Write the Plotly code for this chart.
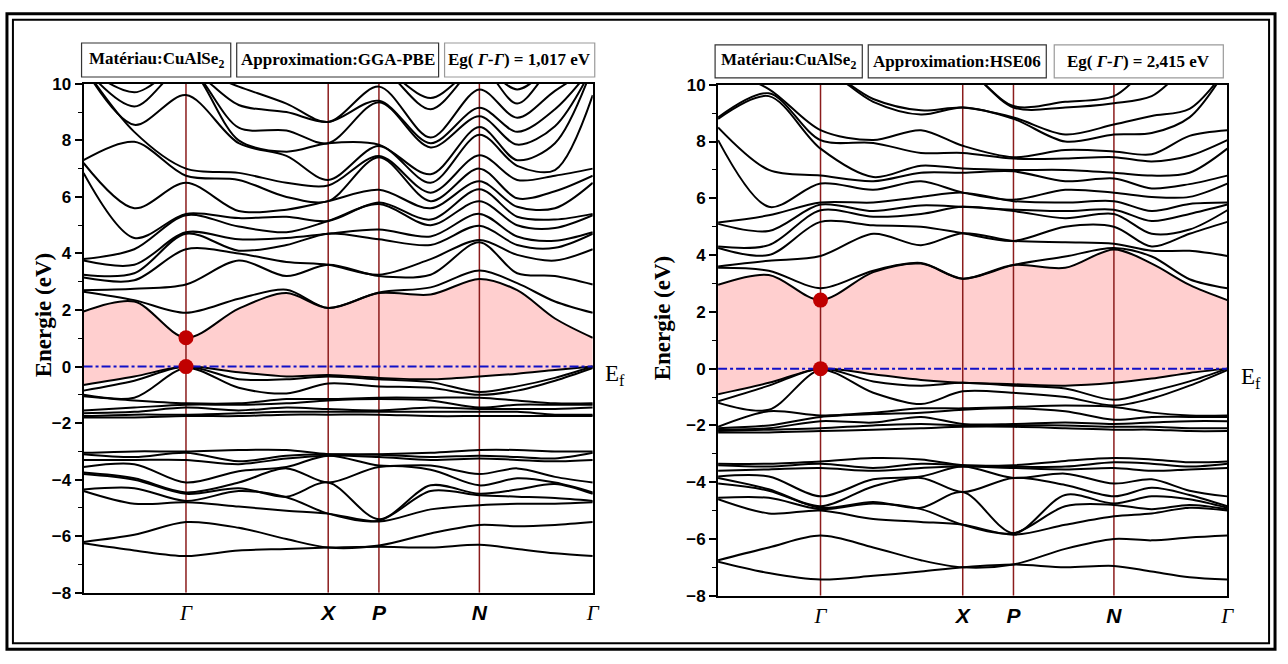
import plotly.graph_objects as go

W, H = 1288, 664

# ---------------- data ----------------
# k-path sample positions (path length units), and high-symmetry points
K = [0, 51, 103, 156, 204, 246, 297, 349, 398, 436, 474, 512]
kpt_pos = [103, 246, 297, 398, 512]
kpt_names = ["Γ", "X", "P", "N", "Γ"]

OFF = 10.6  # energy used for bands that leave the window (above 10 eV)

# GGA-PBE : conduction-band energies (eV) at each K column
gga_cb = [
    [1.95, 2.65, 2.7, 3.15, 3.25, 3.75, 3.8, 6.85, 7.2, 7.3],
    [2.3, 2.35, 2.75, 3.05, 3.3, 3.6, 4.15, 4.55, 5.6, 7.95, 8.3, 8.55, 9.2, 9.7],
    [1.017, 1.9, 2.9, 4.15, 4.7, 4.75, 5.35, 5.4, 6.5, 6.75, 7.0, 9.6],
    [2.05, 2.4, 3.75, 4.0, 4.1, 4.5, 4.95, 5.25, 5.5, 6.6, 6.85, 7.9, 8.0, 8.45, 9.25, 9.9],
    [2.6, 2.72, 3.2, 3.7, 4.3, 4.55, 4.75, 5.3, 5.55, 6.0, 6.5, 7.45, 7.6, 8.35, 9.0, 9.3],
    [2.07, 2.07, 3.6, 3.6, 4.7, 4.7, 5.15, 5.15, 5.85, 5.85, 6.4, 6.6, 7.9, 7.9, 8.65, 8.65],
    [2.6, 2.62, 3.2, 3.25, 4.5, 4.85, 5.75, 5.8, 6.25, 7.4, 7.45, 7.8, 7.85, 9.35, 9.4, 9.9],
    [2.55, 2.8, 3.25, 3.8, 4.3, 4.6, 5.0, 5.2, 5.6, 5.85, 6.15, 6.5, 6.8, 7.75, 7.9, 8.1, 9.1, 9.5],
    [3.1, 3.4, 4.4, 4.48, 4.98, 5.4, 5.85, 6.27, 6.55, 7.0, 7.47, 8.2, 8.47, 8.85, 9.15, 9.8],
    [2.7, 2.95, 3.3, 3.95, 4.3, 4.6, 5.0, 5.3, 5.65, 5.95, 6.6, 7.1, 7.3, 7.85, 8.3, 8.8, 9.3, 9.8],
    [1.7, 2.3, 3.2, 3.75, 4.2, 4.45, 4.9, 5.2, 5.6, 6.2, 6.75, 6.95, 7.9, 8.5, 9.1, 9.75],
    [1.017, 1.9, 2.9, 4.15, 4.7, 4.75, 5.35, 5.4, 6.5, 6.75, 7.0, 9.6],
]
# GGA-PBE : upper valence group
gga_vb_top = [
    [-0.65, -0.85, -1.0, -1.05, -1.55, -1.65, -1.75, -1.8],
    [-0.35, -0.5, -1.1, -1.2, -1.45, -1.6, -1.7, -1.8],
    [0.0, 0.0, -0.05, -1.3, -1.35, -1.45, -1.7, -1.75],
    [-0.2, -0.45, -0.75, -1.3, -1.35, -1.55, -1.65, -1.75],
    [-0.35, -0.45, -0.95, -1.15, -1.3, -1.45, -1.6, -1.7],
    [-0.3, -0.35, -0.6, -1.15, -1.2, -1.5, -1.6, -1.7],
    [-0.4, -0.45, -0.7, -1.1, -1.15, -1.55, -1.6, -1.7],
    [-0.45, -0.55, -0.75, -1.1, -1.2, -1.45, -1.6, -1.75],
    [-0.35, -0.9, -1.0, -1.1, -1.45, -1.5, -1.6, -1.75],
    [-0.25, -0.7, -0.85, -1.2, -1.35, -1.5, -1.6, -1.75],
    [-0.12, -0.4, -0.5, -1.3, -1.35, -1.5, -1.7, -1.75],
    [0.0, 0.0, -0.05, -1.3, -1.35, -1.45, -1.7, -1.75],
]
# GGA-PBE : lower valence group
gga_vb_low = [
    [-3.05, -3.1, -3.3, -3.55, -3.75, -3.8, -4.35, -4.4, -6.2, -6.25],
    [-3.0, -3.2, -3.3, -3.45, -3.95, -4.0, -4.3, -4.85, -5.95, -6.5],
    [-3.0, -3.05, -3.3, -4.1, -4.45, -4.5, -4.75, -4.8, -5.5, -6.7],
    [-2.95, -3.35, -3.45, -3.7, -4.1, -4.3, -4.4, -4.95, -5.7, -6.5],
    [-2.95, -3.15, -3.25, -3.55, -3.6, -4.6, -4.62, -5.1, -6.1, -6.45],
    [-3.1, -3.1, -3.15, -3.15, -4.1, -4.1, -5.2, -5.2, -6.4, -6.4],
    [-3.1, -3.12, -3.2, -3.5, -3.55, -5.4, -5.45, -5.48, -6.33, -6.37],
    [-3.05, -3.2, -3.3, -3.5, -3.65, -4.2, -4.4, -5.05, -5.9, -6.4],
    [-2.95, -3.15, -3.25, -3.8, -4.2, -4.5, -4.55, -4.9, -5.6, -6.3],
    [-2.95, -3.2, -3.3, -3.6, -3.95, -4.35, -4.6, -4.85, -5.65, -6.45],
    [-3.0, -3.25, -3.35, -3.9, -4.1, -4.15, -4.65, -4.85, -5.6, -6.6],
    [-3.0, -3.05, -3.3, -4.1, -4.45, -4.5, -4.75, -4.8, -5.5, -6.7],
]

# HSE06 : conduction bands
hse_cb = [
    [2.95, 3.55, 3.6, 4.25, 4.3, 5.1, 5.15, 8.05, 8.5, 8.8, 8.85],
    [3.3, 3.45, 3.8, 4.0, 4.35, 4.85, 5.4, 5.7, 7.0, 9.6, 9.7, 9.85],
    [2.415, 2.83, 3.97, 5.17, 5.58, 5.78, 5.85, 6.52, 6.8, 7.75, 8.05, 8.4],
    [3.4, 3.45, 4.75, 5.05, 5.35, 5.55, 5.85, 6.3, 6.6, 6.75, 7.95, 8.05, 9.4, 9.5],
    [3.7, 3.72, 4.35, 5.0, 5.45, 5.75, 6.05, 6.6, 6.9, 7.15, 7.6, 8.4, 8.95, 9.1],
    [3.17, 3.17, 4.77, 4.77, 5.7, 5.7, 6.2, 6.2, 6.9, 7.05, 7.6, 7.85, 9.2, 9.2],
    [3.65, 3.65, 4.5, 4.5, 5.55, 5.6, 5.9, 5.95, 6.95, 7.0, 7.4, 7.45, 8.8, 8.85, 9.2, 9.25],
    [3.55, 3.95, 4.45, 5.0, 5.3, 5.55, 5.85, 6.3, 6.6, 7.0, 7.4, 7.7, 8.0, 8.25, 9.2, 9.4],
    [4.2, 4.25, 4.4, 5.0, 5.45, 5.6, 5.9, 6.2, 6.7, 6.9, 7.45, 7.65, 8.25, 8.6, 9.35, 9.6],
    [3.7, 3.95, 4.15, 4.3, 4.75, 5.2, 5.55, 6.05, 6.35, 6.8, 7.3, 7.55, 8.3, 8.9, 9.6],
    [2.95, 3.15, 4.15, 4.75, 4.9, 5.45, 5.8, 6.05, 6.5, 6.9, 7.5, 8.2, 8.85, 9.15],
    [2.415, 2.83, 3.97, 5.17, 5.58, 5.78, 5.85, 6.52, 6.8, 7.75, 8.05, 8.4],
]
hse_vb_top = [
    [-0.9, -1.15, -1.2, -2.05, -2.1, -2.15, -2.2, -2.25],
    [-0.5, -0.6, -1.45, -1.5, -2.0, -2.1, -2.15, -2.25],
    [0.0, 0.0, -0.05, -1.65, -1.7, -1.85, -2.1, -2.2],
    [-0.2, -0.45, -0.85, -1.55, -1.6, -1.9, -2.0, -2.15],
    [-0.4, -0.6, -1.25, -1.4, -1.55, -1.7, -1.95, -2.1],
    [-0.5, -0.5, -0.8, -1.4, -1.45, -1.95, -2.0, -2.05],
    [-0.55, -0.6, -0.85, -1.35, -1.4, -1.95, -2.0, -2.05],
    [-0.6, -0.7, -1.0, -1.3, -1.5, -1.9, -2.0, -2.1],
    [-0.5, -1.1, -1.3, -1.35, -1.8, -1.95, -2.05, -2.15],
    [-0.35, -0.8, -1.05, -1.55, -1.7, -1.9, -2.05, -2.15],
    [-0.15, -0.45, -0.6, -1.65, -1.7, -1.85, -2.1, -2.2],
    [0.0, 0.0, -0.05, -1.65, -1.7, -1.85, -2.1, -2.2],
]
hse_vb_low = [
    [-3.35, -3.4, -3.6, -3.8, -3.85, -4.05, -4.55, -4.6, -6.75, -6.8],
    [-3.35, -3.45, -3.55, -3.8, -4.25, -4.3, -4.55, -5.1, -6.3, -7.2],
    [-3.27, -3.35, -3.5, -4.5, -4.85, -4.9, -4.95, -5.0, -5.88, -7.43],
    [-3.15, -3.5, -3.6, -3.9, -4.15, -4.7, -4.75, -5.3, -6.3, -7.3],
    [-3.2, -3.35, -3.5, -3.8, -3.85, -4.9, -4.95, -5.4, -6.75, -7.15],
    [-3.4, -3.4, -3.45, -3.45, -4.35, -4.35, -5.5, -5.5, -7.0, -7.0],
    [-3.4, -3.45, -3.5, -3.85, -3.85, -5.8, -5.8, -5.85, -6.9, -6.9],
    [-3.25, -3.45, -3.55, -3.7, -4.1, -4.45, -4.85, -5.5, -6.35, -7.0],
    [-3.15, -3.3, -3.5, -4.05, -4.5, -4.75, -4.8, -5.2, -6.0, -6.95],
    [-3.2, -3.35, -3.6, -3.9, -4.2, -4.5, -4.95, -5.1, -6.05, -7.15],
    [-3.3, -3.45, -3.55, -4.3, -4.45, -4.6, -4.8, -4.9, -5.95, -7.35],
    [-3.27, -3.35, -3.5, -4.5, -4.85, -4.9, -4.95, -5.0, -5.88, -7.43],
]

gga_gap = 1.017
hse_gap = 2.415

# ---------------- helpers ----------------
def bands_from_columns(cols, pad=OFF):
    n = max(len(c) for c in cols)
    filled = [sorted(c) + [pad] * (n - len(c)) for c in cols]
    return [[filled[j][i] for j in range(len(cols))] for i in range(n)]


def px(x):
    return x / W


def py(y):
    return 1 - y / H


PINK = "rgb(255,207,207)"
DARKRED = "#8B1C1C"
BAND = dict(color="black", width=2, shape="spline", smoothing=0.9)

panels = [
    dict(xa="x", ya="y", cb=gga_cb, vt=gga_vb_top, vl=gga_vb_low, gap=gga_gap,
         xdom=[84, 596], ydom=[77, 601]),
    dict(xa="x2", ya="y2", cb=hse_cb, vt=hse_vb_top, vl=hse_vb_low, gap=hse_gap,
         xdom=[722, 1234], ydom=[78, 604]),
]

fig = go.Figure()

for p in panels:
    cb_bands = bands_from_columns(p["cb"])
    vt_bands = bands_from_columns(p["vt"])
    vl_bands = bands_from_columns(p["vl"])
    vbm_band = [max(c) for c in p["vt"]]
    common = dict(xaxis=p["xa"], yaxis=p["ya"], showlegend=False, hoverinfo="skip")
    # pink gap region
    fig.add_trace(go.Scatter(x=K, y=vbm_band, mode="lines",
                             line=dict(width=0, shape="spline", smoothing=0.9), **common))
    fig.add_trace(go.Scatter(x=K, y=cb_bands[0], mode="lines", fill="tonexty",
                             fillcolor=PINK,
                             line=dict(width=0, shape="spline", smoothing=0.9), **common))
    # high-symmetry vertical lines
    for kx in kpt_pos[:-1]:
        fig.add_trace(go.Scatter(x=[kx, kx], y=[-8, 10], mode="lines",
                                 line=dict(color=DARKRED, width=1.5), **common))
    # bands
    for b in cb_bands + vt_bands + vl_bands:
        fig.add_trace(go.Scatter(x=K, y=b, mode="lines", line=BAND, **common))
    # Fermi level
    fig.add_trace(go.Scatter(x=[K[0], K[-1]], y=[0, 0], mode="lines",
                             line=dict(color="#1010C8", width=2, dash="dashdot"), **common))
    # band-edge markers at Gamma
    fig.add_trace(go.Scatter(x=[kpt_pos[0], kpt_pos[0]], y=[0, p["gap"]], mode="markers",
                             marker=dict(color="#C00000", size=15, symbol="circle"),
                             cliponaxis=False, **common))

tick_text = []
for n in kpt_names:
    if n == "Γ":
        tick_text.append("<span style='font-family:Liberation Serif'><i>Γ</i></span>")
    else:
        tick_text.append("<b><i>" + n + "</i></b>")

axis_common_x = dict(range=[K[0], K[-1]], showgrid=False, zeroline=False, showline=True,
                     linecolor="black", linewidth=2, mirror=True, ticks="",
                     tickvals=kpt_pos, ticktext=tick_text,
                     tickfont=dict(family="Liberation Sans", size=21, color="black"))
axis_common_y = dict(range=[-8, 10], showgrid=False, zeroline=False, showline=True,
                     linecolor="black", linewidth=2, mirror=True, ticks="outside",
                     ticklen=7, tickwidth=1.5, tickcolor="black", dtick=2, tick0=0,
                     minor=dict(ticks="outside", ticklen=4, dtick=1, tickcolor="black", tickwidth=1.2),
                     tickfont=dict(family="Liberation Sans", size=17, color="black", weight="bold"))

layout = dict(width=W, height=H, autosize=False, margin=dict(l=0, r=0, t=0, b=0),
              paper_bgcolor="white", plot_bgcolor="white", showlegend=False)
for i, p in enumerate(panels):
    sx = "" if i == 0 else "2"
    layout["xaxis" + sx] = dict(axis_common_x, domain=[px(p["xdom"][0]), px(p["xdom"][1])],
                                anchor="y" + sx)
    layout["yaxis" + sx] = dict(axis_common_y, domain=[py(p["ydom"][1]), py(p["ydom"][0])],
                                anchor="x" + sx)
fig.update_layout(**layout)

# ---------------- frame ----------------
shapes = [
    dict(type="rect", xref="paper", yref="paper", x0=px(7), x1=px(1282), y0=py(659), y1=py(5),
         line=dict(color="black", width=3)),
    dict(type="rect", xref="paper", yref="paper", x0=px(13), x1=px(1276), y0=py(653), y1=py(11),
         line=dict(color="black", width=2)),
]

# ---------------- text boxes ----------------
SERIF = "Liberation Serif"
boxes = [
    (82, 232, 35, 70, "<b>Matériau:CuAlSe<sub>2</sub></b>", "#333333"),
    (238, 441, 35, 70, "<b>Approximation:GGA-PBE</b>", "#333333"),
    (447, 598, 35, 70, "<b>Eg( <i>Γ-Γ</i>) = 1,017 eV</b>", "#9a9a9a"),
    (719, 867, 37, 71, "<b>Matériau:CuAlSe<sub>2</sub></b>", "#333333"),
    (873, 1052, 37, 71, "<b>Approximation:HSE06</b>", "#333333"),
    (1060, 1230, 37, 71, "<b>Eg( <i>Γ-Γ</i>) = 2,415 eV</b>", "#9a9a9a"),
]
annotations = []
for x0, x1, y0, y1, txt, col in boxes:
    shapes.append(dict(type="rect", xref="paper", yref="paper", x0=px(x0), x1=px(x1),
                       y0=py(y1), y1=py(y0), line=dict(color=col, width=1.2),
                       fillcolor="white"))
    annotations.append(dict(x=px((x0 + x1) / 2), y=py((y0 + y1) / 2), xref="paper", yref="paper",
                            text=txt, showarrow=False, xanchor="center", yanchor="middle",
                            font=dict(family=SERIF, size=17, color="black")))

for xt, yt in [(30, 315), (667, 318)]:
    annotations.append(dict(x=px(xt), y=py(yt), xref="paper", yref="paper",
                            text="<b>Energie (eV)</b>", textangle=-90, showarrow=False,
                            font=dict(family=SERIF, size=23, color="black")))
for xt, yt in [(606, 377), (1246, 380)]:
    annotations.append(dict(x=px(xt), y=py(yt), xref="paper", yref="paper",
                            text="E<sub>f</sub>", showarrow=False, xanchor="left",
                            font=dict(family=SERIF, size=23, color="black")))

fig.update_layout(shapes=shapes, annotations=annotations)
fig.write_html("out.html")
